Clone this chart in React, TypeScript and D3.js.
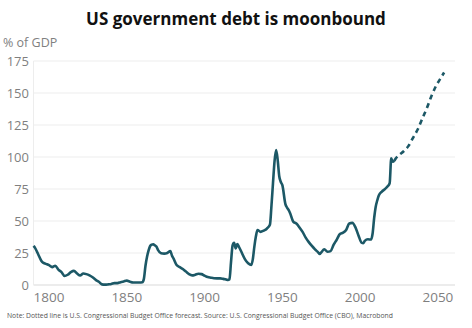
import React from "react";
import * as d3 from "d3";

const histYears = [1790,1791,1793,1795,1796,1798,1800,1802,1804,1806,1808,1810,1812,1814,1816,1818,1820,1822,1824,1826,1828,1830,1832,1834,1836,1838,1840,1842,1844,1846,1848,1850,1852,1854,1856,1858,1860,1861,1862,1863,1864,1865,1866,1867,1868,1869,1870,1872,1874,1876,1878,1879,1880,1882,1884,1886,1888,1890,1892,1894,1896,1898,1900,1902,1904,1906,1908,1910,1912,1914,1915,1916,1917,1918,1919,1920,1921,1922,1924,1926,1928,1930,1931,1932,1933,1934,1936,1938,1940,1942,1943,1944,1945,1946,1947,1948,1949,1950,1952,1953,1954,1955,1957,1959,1961,1963,1965,1967,1969,1971,1973,1974,1975,1977,1979,1981,1983,1985,1987,1989,1991,1993,1995,1997,1999,2001,2002,2003,2005,2007,2008,2009,2010,2011,2012,2014,2016,2018,2019,2020,2021,2022];
const histValues = [30.5,29,24,19,17.5,16.5,15.5,14,15,12,10,7,8,10,11,9,7.5,9,8.5,7.5,6,4,2.5,0.5,0.3,0.5,0.8,1.5,1.5,2.2,2.8,3.4,2.6,2,2,2,2.2,5,15,22,27,30.5,31.5,31.8,31,30,27.5,24.8,24.5,25,26.5,23,20.8,15.6,14,12.5,10.5,8.5,7.5,8,8.8,8.5,7.3,6.2,5.7,5.3,5.2,5.2,4.8,4.2,3.9,4.5,18,31,33,28.6,32,30,25,20,17,15.6,20,30,38,43,41.5,42.5,44,47,62,80,97,105.5,97.6,85,80.5,78,63,60.5,58.6,56,49.5,48,45,41.5,37,33.5,30.5,27.8,25.5,24.2,25.5,27.9,26,26.5,31.5,35.5,39.8,40.9,43,48,48.5,45,38.5,33,32.6,34.5,35.7,35.5,40,52,61,66,70,73,75,77.5,79.5,99,96.3,97];

const forecastYears = [2022,2023,2025,2028,2031,2034,2037,2040,2043,2046,2049,2052,2054];
const forecastValues = [97,99,101.5,104.5,108.5,115,121.5,130,138.5,148,156,162,166];

const yTicks = [0,25,50,75,100,125,150,175];
const xTicks = [1800,1850,1900,1950,2000,2050];

const title = "US government debt is moonbound";
const yLabel = "% of GDP";
const note = "Note: Dotted line is U.S. Congressional Budget Office forecast.  Source: U.S. Congressional Budget Office (CBO), Macrobond";

export default function App() {
  const W = 472, H = 328;
  const x = d3.scaleLinear().domain([1790, 2061]).range([33.5, 455]);
  const y = d3.scaleLinear().domain([0, 175]).range([285, 61]);
  const line = d3.line<[number, number]>().x(d => x(d[0])).y(d => y(d[1])).curve(d3.curveMonotoneX);
  const hist = histYears.map((yr, i) => [yr, histValues[i]] as [number, number]);
  const fc = forecastYears.map((yr, i) => [yr, forecastValues[i]] as [number, number]);
  const font = "'Open Sans', sans-serif";
  const color = "#1c5866";
  return (
    <svg width={W} height={H} style={{ position: "absolute", left: 0, top: 0, background: "#fff" }}>
      <rect x={0} y={0} width={W} height={H} fill="#fff" />
      <text x={236} y={25} textAnchor="middle" fontFamily={font} fontWeight={700} fontSize={17} fill="#111">{title}</text>
      <text x={3} y={47} fontFamily={font} fontSize={12.5} fill="#808080">{yLabel}</text>
      {yTicks.map(t => (
        <g key={t}>
          <line x1={33.5} x2={455} y1={y(t)} y2={y(t)} stroke={t === 0 ? "#d9d9d9" : "#ededed"} strokeWidth={1} />
          <text x={29} y={y(t)} dy="0.36em" textAnchor="end" fontFamily={font} fontSize={13} fill="#7f7f7f">{t}</text>
        </g>
      ))}
      <line x1={33.5} x2={33.5} y1={y(175)} y2={y(0)} stroke="#ededed" strokeWidth={1} />
      {xTicks.map(t => (
        <text key={t} x={x(t)} y={302} textAnchor="middle" fontFamily={font} fontSize={13.5} fill="#7f7f7f">{t}</text>
      ))}
      <path d={line(hist) || ""} fill="none" stroke={color} strokeWidth={2.6} strokeLinejoin="round" />
      <path d={line(fc) || ""} fill="none" stroke={color} strokeWidth={2.6} strokeDasharray="5,4" />
      <text x={7} y={318} fontFamily={font} fontSize={6.8} fill="#555">{note}</text>
    </svg>
  );
}
